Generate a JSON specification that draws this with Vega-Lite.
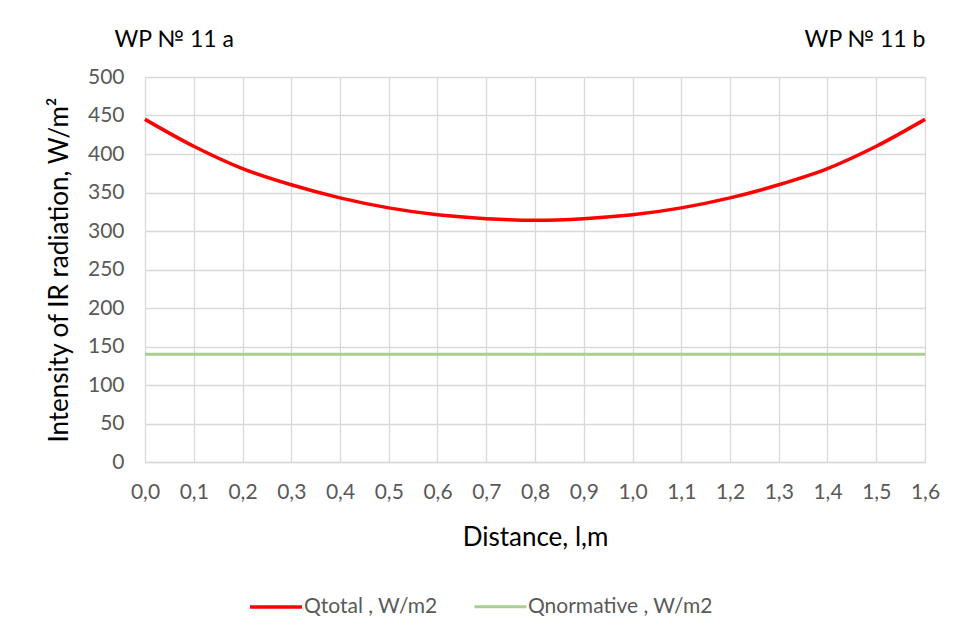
{
  "$schema": "https://vega.github.io/schema/vega-lite/v6.json",
  "width": 780,
  "height": 385,
  "autosize": {"type": "none"},
  "padding": {"left": 145, "top": 77, "right": 40, "bottom": 177},
  "background": "white",
  "config": {
    "view": {"stroke": null},
    "font": "Lato",
    "axis": {"grid": true, "gridColor": "#d9d9d9", "gridWidth": 1.3, "ticks": false, "domain": false, "labelColor": "#595959", "labelFont": "Lato", "labelFontSize": 21, "titleFont": "Lato", "titleFontWeight": "normal", "titleColor": "#000000", "titleFontSize": 26, "labelOverlap": false, "labelFlush": false}
  },
  "datasets": {
    "curves": [
      {"distance": 0.0, "value": 445, "series": "Qtotal , W/m2"},
      {"distance": 0.1, "value": 410, "series": "Qtotal , W/m2"},
      {"distance": 0.2, "value": 381, "series": "Qtotal , W/m2"},
      {"distance": 0.3, "value": 360, "series": "Qtotal , W/m2"},
      {"distance": 0.4, "value": 343, "series": "Qtotal , W/m2"},
      {"distance": 0.5, "value": 330, "series": "Qtotal , W/m2"},
      {"distance": 0.6, "value": 321, "series": "Qtotal , W/m2"},
      {"distance": 0.7, "value": 316, "series": "Qtotal , W/m2"},
      {"distance": 0.8, "value": 314, "series": "Qtotal , W/m2"},
      {"distance": 0.9, "value": 316, "series": "Qtotal , W/m2"},
      {"distance": 1.0, "value": 321, "series": "Qtotal , W/m2"},
      {"distance": 1.1, "value": 330, "series": "Qtotal , W/m2"},
      {"distance": 1.2, "value": 343, "series": "Qtotal , W/m2"},
      {"distance": 1.3, "value": 360, "series": "Qtotal , W/m2"},
      {"distance": 1.4, "value": 381, "series": "Qtotal , W/m2"},
      {"distance": 1.5, "value": 410, "series": "Qtotal , W/m2"},
      {"distance": 1.6, "value": 445, "series": "Qtotal , W/m2"},
      {"distance": 0.0, "value": 140, "series": "Qnormative , W/m2"},
      {"distance": 0.1, "value": 140, "series": "Qnormative , W/m2"},
      {"distance": 0.2, "value": 140, "series": "Qnormative , W/m2"},
      {"distance": 0.3, "value": 140, "series": "Qnormative , W/m2"},
      {"distance": 0.4, "value": 140, "series": "Qnormative , W/m2"},
      {"distance": 0.5, "value": 140, "series": "Qnormative , W/m2"},
      {"distance": 0.6, "value": 140, "series": "Qnormative , W/m2"},
      {"distance": 0.7, "value": 140, "series": "Qnormative , W/m2"},
      {"distance": 0.8, "value": 140, "series": "Qnormative , W/m2"},
      {"distance": 0.9, "value": 140, "series": "Qnormative , W/m2"},
      {"distance": 1.0, "value": 140, "series": "Qnormative , W/m2"},
      {"distance": 1.1, "value": 140, "series": "Qnormative , W/m2"},
      {"distance": 1.2, "value": 140, "series": "Qnormative , W/m2"},
      {"distance": 1.3, "value": 140, "series": "Qnormative , W/m2"},
      {"distance": 1.4, "value": 140, "series": "Qnormative , W/m2"},
      {"distance": 1.5, "value": 140, "series": "Qnormative , W/m2"},
      {"distance": 1.6, "value": 140, "series": "Qnormative , W/m2"}
    ],
    "notes": [
      {"distance": 0.06, "value": 548, "label": "WP № 11 a"},
      {"distance": 1.477, "value": 548, "label": "WP № 11 b"}
    ]
  },
  "encoding": {
    "x": {"field": "distance", "type": "quantitative", "scale": {"domain": [0, 1.6], "nice": false},
      "axis": {"values": [0,0.1,0.2,0.3,0.4,0.5,0.6,0.7,0.8,0.9,1.0,1.1,1.2,1.3,1.4,1.5,1.6], "labelExpr": "replace(format(datum.value, '.1f'), '.', ',')", "labelPadding": 19, "title": "Distance, l,m", "titlePadding": 22, "domain": true, "domainColor": "#d9d9d9", "domainWidth": 1.3}},
    "y": {"field": "value", "type": "quantitative", "scale": {"domain": [0, 500], "nice": false},
      "axis": {"values": [0,50,100,150,200,250,300,350,400,450,500], "labelPadding": 21, "title": "Intensity of IR radiation, W/m²", "titlePadding": 15}}
  },
  "layer": [
    {
      "data": {"name": "curves"},
      "mark": {"type": "line", "interpolate": "monotone", "clip": false},
      "encoding": {
        "color": {"field": "series", "type": "nominal",
          "scale": {"domain": ["Qtotal , W/m2", "Qnormative , W/m2"], "range": ["#ff0000", "#a9d18e"]},
          "legend": {"title": null, "orient": "none", "direction": "horizontal", "legendX": 103, "legendY": 502, "symbolType": "stroke", "symbolSize": 2704, "symbolStrokeWidth": 3.5, "labelFont": "Lato", "labelFontSize": 21, "labelColor": "#595959", "columnPadding": 30, "labelOffset": 0, "labelLimit": 400}},
        "strokeWidth": {"field": "series", "type": "nominal", "scale": {"domain": ["Qtotal , W/m2", "Qnormative , W/m2"], "range": [3.5, 3]}, "legend": null}
      }
    },
    {
      "data": {"name": "notes"},
      "mark": {"type": "text", "font": "Lato", "fontSize": 23, "color": "#000000", "baseline": "middle", "align": "center"},
      "encoding": {
        "text": {"field": "label"}
      }
    }
  ]
}
